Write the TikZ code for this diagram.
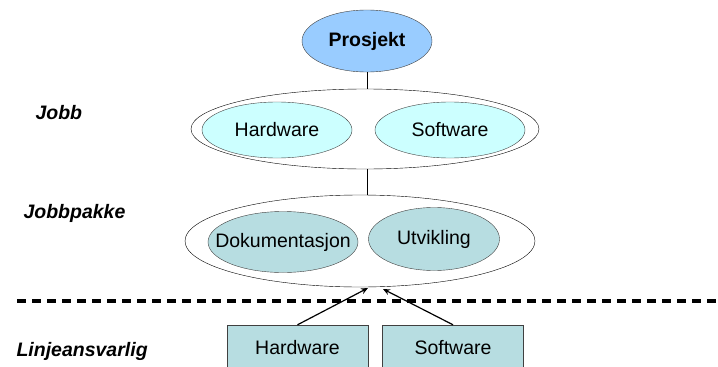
\documentclass[tikz,border=0pt]{standalone}
\usepackage{fontspec}
\setmainfont{Liberation Sans}
\usetikzlibrary{shapes.geometric,arrows.meta}
\definecolor{prosjektblue}{HTML}{99CCFF}
\definecolor{jobbcyan}{HTML}{CCFFFF}
\definecolor{pakketeal}{HTML}{B7DDE1}
% keep the ellipse size independent of the text width
\newcommand{\ztext}[1]{\makebox[0pt]{#1}}
\begin{document}
\begin{tikzpicture}[x=1pt,y=-1pt,
    every node/.style={font=\fontsize{19.5}{22}\selectfont},
    outer/.style={ellipse, draw=black, fill=white, inner sep=0pt},
    inner/.style={ellipse, draw=black!75, inner sep=0pt, minimum width=150pt},
    levellabel/.style={anchor=base west, font=\fontsize{19.5}{22}\selectfont\bfseries\itshape},
    linebox/.style={rectangle, draw=black!75, fill=pakketeal, minimum width=141pt, minimum height=46pt, inner sep=0pt}]
    \clip (0,0) rectangle (718,367);

    \node[ellipse, draw=black!75, fill=prosjektblue, minimum width=130pt, minimum height=62pt, inner sep=0pt, font=\fontsize{19.5}{22}\selectfont\bfseries] (prosjekt) at (367,41) {\ztext{Prosjekt}};

    \node[outer, minimum width=348pt, minimum height=80pt] (jobb) at (365,129) {};
    \node[inner, fill=jobbcyan, minimum height=56pt] (jobbhw) at (277,130) {\ztext{Hardware}};
    \node[inner, fill=jobbcyan, minimum height=56pt] (jobbsw) at (450,130) {\ztext{Software}};

    \node[outer, minimum width=350pt, minimum height=92pt] (pakke) at (360,241) {};
    \node[inner, fill=pakketeal, minimum height=61pt] (dok) at (283,242) {\ztext{Dokumentasjon}};
    \node[inner, fill=pakketeal, minimum width=131pt, minimum height=63pt] (utv) at (434,239) {\ztext{Utvikling}};

    \draw (prosjekt.south) -- (prosjekt.south |- jobb.north);
    \draw (prosjekt.south |- jobb.south) -- (prosjekt.south |- pakke.north);

    \node[levellabel] (lbljobb) at (32,119) {Jobb};
    \node[levellabel] (lblpakke) at (20,218) {Jobbpakke};
    \node[levellabel] (lbllinje) at (13,356) {Linjeansvarlig};

    \draw[line width=4pt, dash pattern=on 9pt off 6pt] (17,301) -- (718,301);

    \node[linebox] (linjehw) at (297.5,348) {Hardware};
    \node[linebox] (linjesw) at (453,348) {Software};

    \coordinate (pinhw) at (368,288);
    \coordinate (pinsw) at (383,289);
    \draw[line width=1.2pt, -{Stealth[length=7pt,width=6pt]}] (linjehw.north) -- (pinhw);
    \draw[line width=1.2pt, -{Stealth[length=7pt,width=6pt]}] (linjesw.north) -- (pinsw);
\end{tikzpicture}
\end{document}
